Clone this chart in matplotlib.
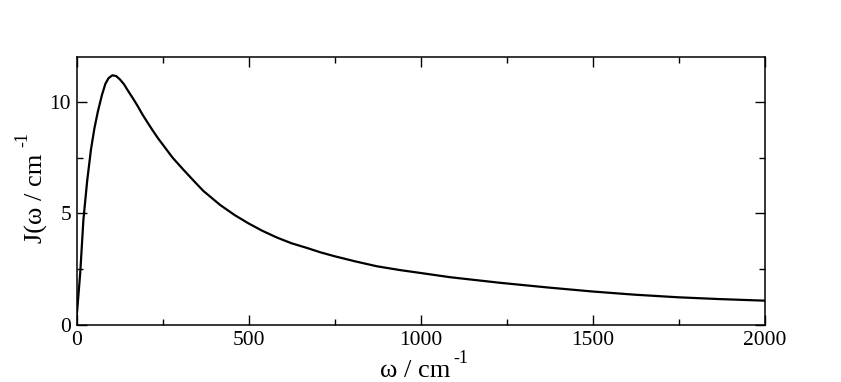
import matplotlib
matplotlib.use("Agg")
import matplotlib.pyplot as plt
from matplotlib.ticker import MultipleLocator

# spectral density
omega = [0, 11, 20, 31, 42, 52, 62, 74, 84, 93, 104, 115, 126, 138, 150,
         164, 178, 192, 208, 222, 237, 258, 280, 311, 343, 369, 418, 460,
         500, 540, 582, 625, 670, 710, 750, 810, 873, 940, 1000, 1086, 1231,
         1370, 1500, 1620, 1750, 1870, 2000]
J = [0.27, 2.37, 4.7, 6.45, 7.85, 8.8, 9.55, 10.3, 10.8, 11.05, 11.18, 11.15,
     11.0, 10.78, 10.48, 10.15, 9.8, 9.42, 9.03, 8.7, 8.36, 7.93, 7.48, 6.95,
     6.42, 6.0, 5.37, 4.92, 4.55, 4.22, 3.92, 3.66, 3.45, 3.25, 3.08, 2.85,
     2.63, 2.46, 2.33, 2.14, 1.89, 1.68, 1.5, 1.36, 1.24, 1.16, 1.09]

x_ticks = [0, 500, 1000, 1500, 2000]
y_ticks = [0, 5, 10]

plt.rcParams['font.family'] = ['Liberation Serif', 'DejaVu Serif']

W, H = 841, 382
fig = plt.figure(figsize=(W / 100, H / 100), dpi=100)
ax = fig.add_axes([76.5 / W, 1 - 325 / H, 688 / W, 268 / H])

ax.plot(omega, J, color='black', linewidth=1.6)

ax.set_xlim(0, 2000)
ax.set_ylim(0, 12)
ax.set_xticks(x_ticks)
ax.set_yticks(y_ticks)
ax.xaxis.set_minor_locator(MultipleLocator(250))
ax.yaxis.set_minor_locator(MultipleLocator(2.5))

ax.tick_params(which='both', direction='in', top=True, right=True,
               labelsize=15.5, width=1, pad=4)
ax.tick_params(which='major', length=7)
ax.tick_params(which='minor', length=4)
for s in ax.spines.values():
    s.set_linewidth(1.1)

# axis titles, xmgrace style with raised "-1"
xl = fig.text(380 / W, 1 - 377 / H, 'ω / cm', fontsize=19,
              ha='left', va='baseline')
ax.annotate('-1', xy=(1, 1 - 363 / H), xycoords=(xl, 'figure fraction'),
            xytext=(2, 0), textcoords='offset points',
            fontsize=13, ha='left', va='baseline')

yl = fig.text(43 / W, 1 - 243 / H, 'J(ω / cm', fontsize=19,
              rotation=90, rotation_mode='anchor', ha='left', va='baseline')
ax.annotate('-1', xy=(27 / W, 1), xycoords=('figure fraction', yl),
            xytext=(0, 5), textcoords='offset points', fontsize=13,
            rotation=90, rotation_mode='anchor', ha='left', va='baseline')

fig.savefig('out.png', dpi=100)
